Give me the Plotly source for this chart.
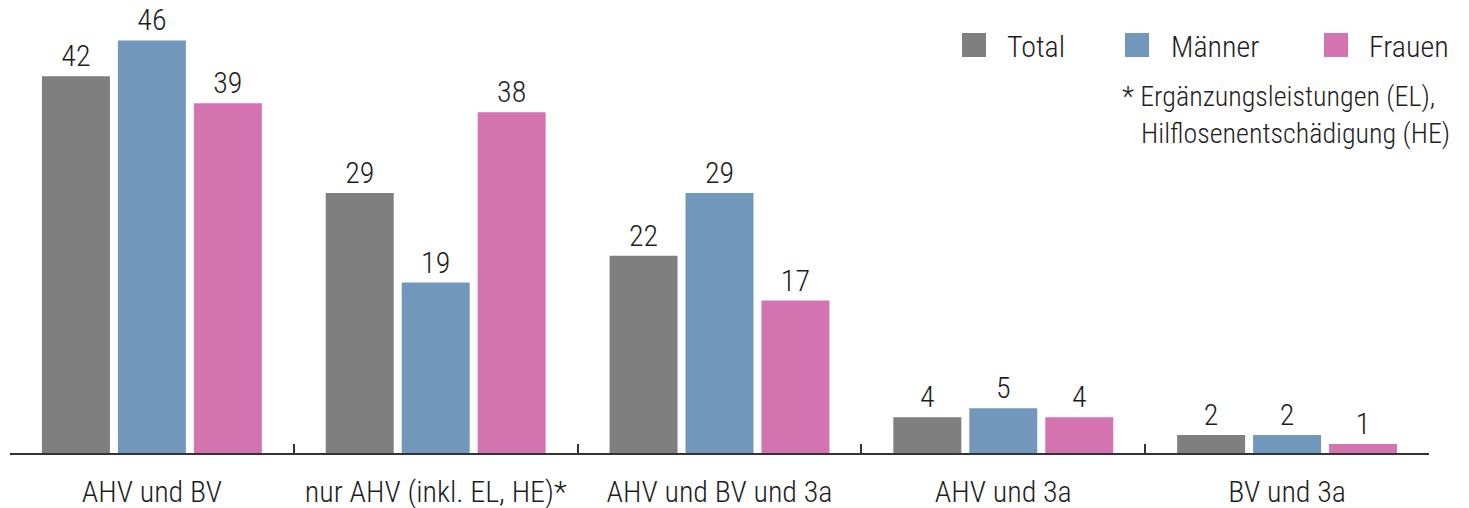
import plotly.graph_objects as go

categories = ["AHV und BV", "nur AHV (inkl. EL, HE)*", "AHV und BV und 3a", "AHV und 3a", "BV und 3a"]
series_names = ["Total", "Männer", "Frauen"]
total = [42, 29, 22, 4, 2]
maenner = [46, 19, 29, 5, 2]
frauen = [39, 38, 17, 4, 1]
colors = ["#7f7f7f", "#7297bd", "#d374b1"]
footnote_1 = "* Ergänzungsleistungen (EL),"
footnote_2 = "Hilflosenentschädigung (HE)"

FONT = "Roboto Condensed, Liberation Sans Narrow, DejaVu Sans Condensed, Roboto, sans-serif"
TXT = "#1e1e1e"
WEIGHT = 300

fig = go.Figure()
for name, vals, col in zip(series_names, [total, maenner, frauen], colors):
    fig.add_trace(go.Bar(
        x=categories, y=vals, name=name, marker=dict(color=col, line=dict(width=0)),
        text=vals, texttemplate="%{text}", textposition="outside",
        textfont=dict(family=FONT, size=30, color=TXT, weight=WEIGHT), cliponaxis=False,
        showlegend=False,
    ))

W, H = 1469, 508
ml, mr, mt, mb = 10, 40, 10, 55
pw, ph = W - ml - mr, H - mt - mb
def px(x):
    return (x - ml) / pw
def py(y):
    return 1 - (y - mt) / ph

# legend drawn as paper shapes + labels
leg_sq_x = [962, 1125, 1324]
leg_tx_x = [1005, 1169, 1367]
for name, col, sx, tx in zip(series_names, colors, leg_sq_x, leg_tx_x):
    fig.add_shape(type="rect", xref="paper", yref="paper",
                  x0=px(sx), x1=px(sx + 24), y0=py(57), y1=py(33),
                  fillcolor=col, line=dict(width=0))
    fig.add_annotation(xref="paper", yref="paper", x=px(tx), y=py(46),
                       text=name, showarrow=False, xanchor="left", yanchor="middle",
                       font=dict(family=FONT, size=30, color=TXT, weight=WEIGHT))

fig.add_annotation(xref="paper", yref="paper", x=px(1120), y=py(97), text=footnote_1,
                   showarrow=False, xanchor="left", yanchor="middle",
                   font=dict(family=FONT, size=28, color=TXT, weight=WEIGHT))
fig.add_annotation(xref="paper", yref="paper", x=px(1139), y=py(133), text=footnote_2,
                   showarrow=False, xanchor="left", yanchor="middle",
                   font=dict(family=FONT, size=28, color=TXT, weight=WEIGHT))

fig.update_layout(
    width=W, height=H, margin=dict(l=ml, r=mr, t=mt, b=mb, autoexpand=False),
    paper_bgcolor="white", plot_bgcolor="white",
    barmode="group", bargap=0.197, bargroupgap=0.105,
    font=dict(family=FONT, size=30, color=TXT, weight=WEIGHT),
    xaxis=dict(showline=True, linecolor="#333333", linewidth=1.5,
               ticks="inside", ticklen=9, tickwidth=1.5, tickcolor="#333333",
               tickson="boundaries", showgrid=False, automargin=False,
               tickfont=dict(family=FONT, size=30, color=TXT, weight=WEIGHT),
               ticklabelstandoff=11),
    yaxis=dict(range=[0, 49.4], visible=False, showgrid=False, zeroline=False),
)

fig.write_html("out.html", config={"displayModeBar": False},
               post_script="document.body.style.margin='0';document.body.style.overflow='hidden';")
